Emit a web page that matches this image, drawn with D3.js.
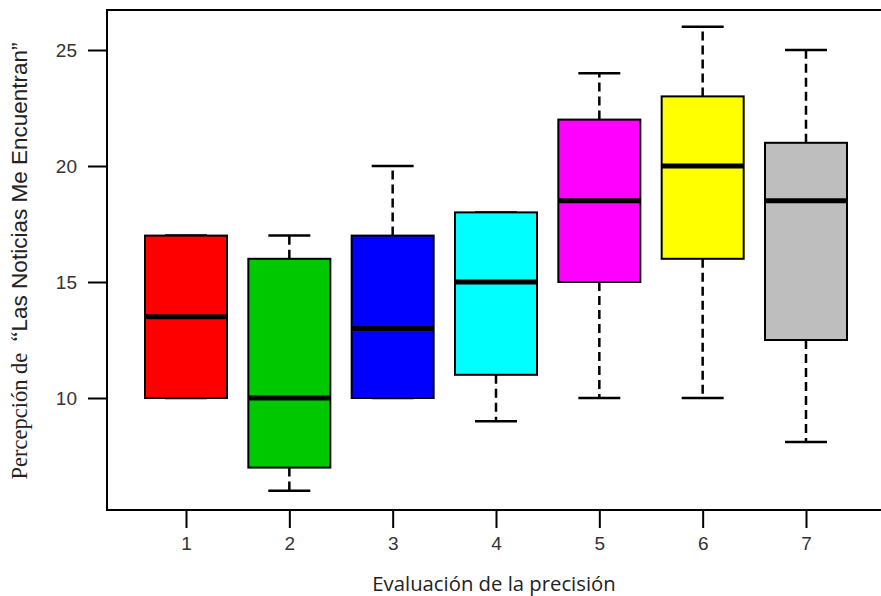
<!DOCTYPE html>
<html>
<head>
<meta charset="utf-8">
<script src="https://cdn.jsdelivr.net/npm/d3@7"></script>
<style>
  body { margin: 0; background: #fff; }
</style>
</head>
<body>
<svg id="chart" width="881" height="596"></svg>
<script>
// values
var groups  = ["1", "2", "3", "4", "5", "6", "7"];
var whiskLo = [10, 6, 10, 9, 10, 10, 8.1];
var q1      = [10, 7, 10, 11, 15, 16, 12.5];
var medians = [13.5, 10, 13, 15, 18.5, 20, 18.5];
var q3      = [17, 16, 17, 18, 22, 23, 21];
var whiskHi = [17, 17, 20, 18, 24, 26, 25];
var colors  = ["#ff0000", "#00c800", "#0000ff", "#00ffff", "#ff00ff", "#ffff00", "#bebebe"];
var yTicks  = [10, 15, 20, 25];

var svg = d3.select("#chart"),
    plotLeft = 107, plotTop = 10, plotRight = 884, plotBottom = 510;

// y: 10 -> 398, 25 -> 50
var y = d3.scaleLinear().domain([10, 25]).range([398, 50]);
var x = d3.scalePoint().domain(groups).range([186, 806]);

var boxW = 82, capW = 42;

var data = groups.map(function(g, i) {
  return {g: g, lo: whiskLo[i], q1: q1[i], med: medians[i], q3: q3[i], hi: whiskHi[i], col: colors[i]};
});

var box = svg.append("g").selectAll("g").data(data).enter().append("g");

// dashed whiskers
box.append("line")
  .attr("x1", function(d) { return x(d.g); }).attr("x2", function(d) { return x(d.g); })
  .attr("y1", function(d) { return y(d.q3); }).attr("y2", function(d) { return y(d.hi); })
  .attr("stroke", "#000").attr("stroke-width", 2.5).attr("stroke-dasharray", "9,5");
box.append("line")
  .attr("x1", function(d) { return x(d.g); }).attr("x2", function(d) { return x(d.g); })
  .attr("y1", function(d) { return y(d.q1); }).attr("y2", function(d) { return y(d.lo); })
  .attr("stroke", "#000").attr("stroke-width", 2.5).attr("stroke-dasharray", "9,5");
// caps
box.append("line")
  .attr("x1", function(d) { return x(d.g) - capW / 2; }).attr("x2", function(d) { return x(d.g) + capW / 2; })
  .attr("y1", function(d) { return y(d.hi); }).attr("y2", function(d) { return y(d.hi); })
  .attr("stroke", "#000").attr("stroke-width", 2.5);
box.append("line")
  .attr("x1", function(d) { return x(d.g) - capW / 2; }).attr("x2", function(d) { return x(d.g) + capW / 2; })
  .attr("y1", function(d) { return y(d.lo); }).attr("y2", function(d) { return y(d.lo); })
  .attr("stroke", "#000").attr("stroke-width", 2.5);
// boxes
box.append("rect")
  .attr("x", function(d) { return x(d.g) - boxW / 2; })
  .attr("y", function(d) { return y(d.q3); })
  .attr("width", boxW)
  .attr("height", function(d) { return y(d.q1) - y(d.q3); })
  .attr("fill", function(d) { return d.col; })
  .attr("stroke", "#000").attr("stroke-width", 2);
// medians
box.append("line")
  .attr("x1", function(d) { return x(d.g) - boxW / 2; }).attr("x2", function(d) { return x(d.g) + boxW / 2; })
  .attr("y1", function(d) { return y(d.med); }).attr("y2", function(d) { return y(d.med); })
  .attr("stroke", "#000").attr("stroke-width", 5);

// frame
svg.append("rect")
  .attr("x", plotLeft).attr("y", plotTop)
  .attr("width", plotRight - plotLeft).attr("height", plotBottom - plotTop)
  .attr("fill", "none").attr("stroke", "#000").attr("stroke-width", 2);

// y axis ticks
var yAxis = svg.append("g").attr("transform", "translate(" + plotLeft + ",0)")
  .call(d3.axisLeft(y).tickValues(yTicks).tickSize(19).tickPadding(11));
yAxis.select(".domain").remove();
yAxis.selectAll("line").attr("stroke", "#000").attr("stroke-width", 2);
yAxis.selectAll("text").attr("font-family", "Liberation Sans, Arial, sans-serif")
  .attr("font-size", "19px").attr("fill", "#333");

// x axis ticks
var xAxis = svg.append("g").attr("transform", "translate(0," + plotBottom + ")")
  .call(d3.axisBottom(x).tickSize(18).tickPadding(9));
xAxis.select(".domain").remove();
xAxis.selectAll("line").attr("stroke", "#000").attr("stroke-width", 2);
xAxis.selectAll("text").attr("font-family", "Liberation Sans, Arial, sans-serif")
  .attr("font-size", "19px").attr("fill", "#333");

// axis titles
svg.append("text")
  .attr("x", 494).attr("y", 591)
  .attr("text-anchor", "middle")
  .attr("font-family", "Open Sans, sans-serif")
  .attr("font-size", "20.3px").attr("fill", "#222")
  .text("Evaluación de la precisión");

var yl = svg.append("text")
  .attr("transform", "translate(27,261) rotate(-90)")
  .attr("text-anchor", "middle")
  .attr("font-size", "22.5px").attr("fill", "#222")
  .attr("xml:space", "preserve");
yl.append("tspan").attr("font-family", "Liberation Serif, serif").text("Percepción de  \u201C");
yl.append("tspan").attr("font-family", "Liberation Sans, Arial, sans-serif").text("Las Noticias Me Encuentran\u201D");
</script>
</body>
</html>
